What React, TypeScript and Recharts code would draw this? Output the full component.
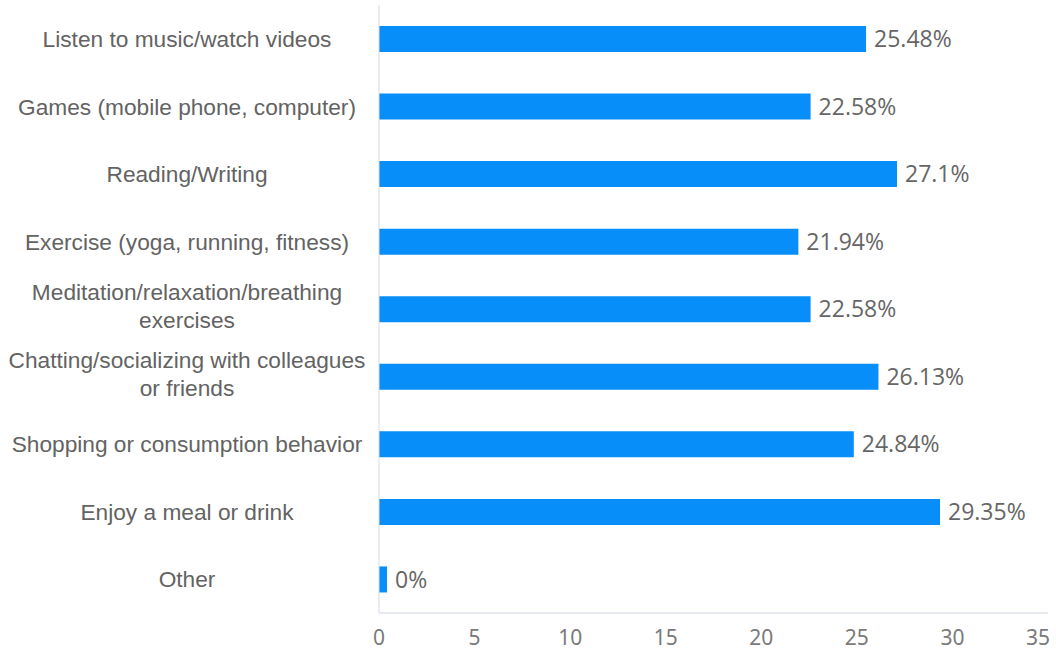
import { BarChart, Bar, XAxis, YAxis, LabelList } from "recharts";

const categories = [
  "Listen to music/watch videos",
  "Games (mobile phone, computer)",
  "Reading/Writing",
  "Exercise (yoga, running, fitness)",
  "Meditation/relaxation/breathing\nexercises",
  "Chatting/socializing with colleagues\nor friends",
  "Shopping or consumption behavior",
  "Enjoy a meal or drink",
  "Other",
];

const shares = [25.48, 22.58, 27.1, 21.94, 22.58, 26.13, 24.84, 29.35, 0];

const xTicks = [0, 5, 10, 15, 20, 25, 30, 35];

const data = categories.map((name, i) => ({ name, value: shares[i] }));

const CategoryTick = (props: any) => {
  const { y, payload } = props;
  const lines = String(payload.value).split("\n");
  const lineH = 28;
  const start = lines.length > 1 ? y - lineH / 2 - 3 : y;
  return (
    <text
      x={187}
      y={start}
      textAnchor="middle"
      fill="#636363"
      fontSize={22.7}
      fontFamily="'Liberation Sans', Arial, sans-serif"
    >
      {lines.map((l, i) => (
        <tspan key={i} x={187} y={start + i * lineH} dy="0.36em">
          {l}
        </tspan>
      ))}
    </text>
  );
};

const ValueTick = (props: any) => {
  const { x, y, payload } = props;
  const last = payload.value === xTicks[xTicks.length - 1];
  return (
    <text
      x={last ? x + 2 : x}
      y={y + 23}
      dy="0.35em"
      textAnchor={last ? "end" : "middle"}
      fill="#7a7a7a"
      fontSize={21}
      fontFamily="'Noto Sans', sans-serif"
    >
      {payload.value}
    </text>
  );
};

export default function App() {
  return (
    <div style={{ position: "absolute", left: 0, top: 0, background: "#fff" }}>
      <BarChart
        width={1056}
        height={654}
        data={data}
        layout="vertical"
        margin={{ top: 5, right: 8, left: 0, bottom: 0 }}
      >
        <XAxis
          type="number"
          domain={[0, 35]}
          ticks={xTicks}
          height={41}
          axisLine={{ stroke: "#cfd7e3" }}
          tickLine={false}
          tickSize={0}
          tick={<ValueTick />}
        />
        <YAxis
          type="category"
          dataKey="name"
          width={379}
          axisLine={{ stroke: "#d6dbe2" }}
          tickLine={false}
          tick={<CategoryTick />}
          interval={0}
        />
        <Bar dataKey="value" fill="#088ef8" barSize={26} minPointSize={8} isAnimationActive={false}>
          <LabelList
            dataKey="value"
            position="right"
            offset={8}
            formatter={(v: any) => `${v}%`}
            fill="#666"
            fontSize={23}
            fontFamily="'Open Sans', sans-serif"
          />
        </Bar>
      </BarChart>
    </div>
  );
}
